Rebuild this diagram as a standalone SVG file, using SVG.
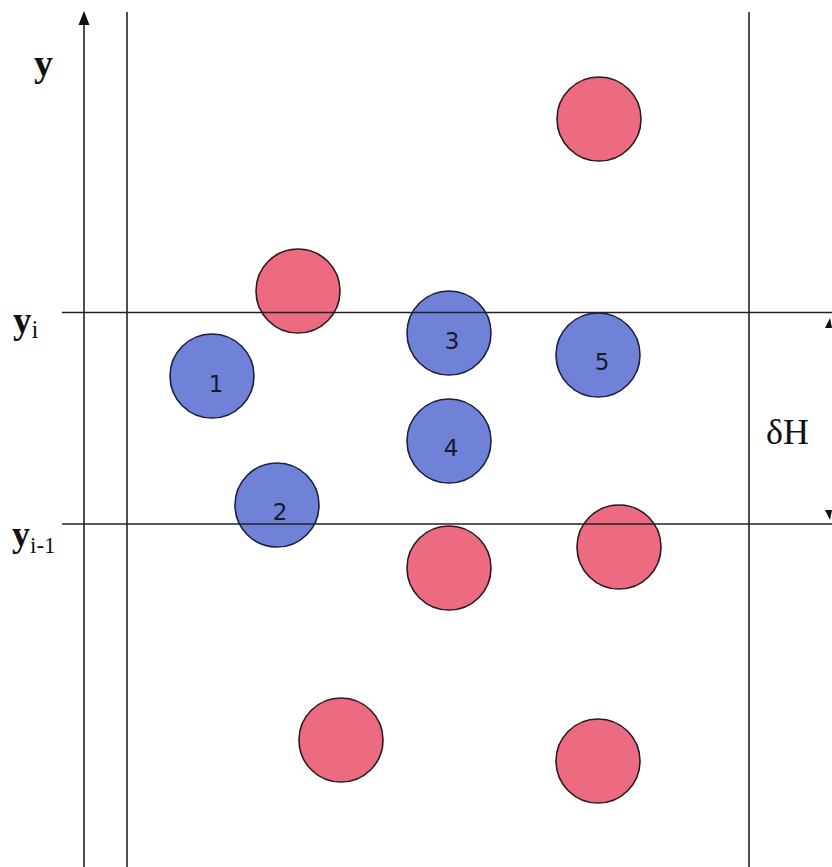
<svg xmlns="http://www.w3.org/2000/svg" width="832" height="867" viewBox="0 0 832 867">
<defs>
<style>
.red{fill:#ec6b80;stroke:#2a1a1e;stroke-width:1.6}
.blue{fill:#6f82d8;stroke:#1c2040;stroke-width:1.6}
.ln{stroke:#222;stroke-width:1.6;fill:none}
.num{font-family:"DejaVu Sans","Liberation Sans",sans-serif;font-size:23px;font-weight:normal;fill:#1a1a2a;text-anchor:middle}
.lab{font-family:"Liberation Serif",serif;fill:#111}
</style>
</defs>
<rect width="832" height="867" fill="#ffffff"/>
<g id="nodes">
<g id="r1"><circle class="red" cx="599" cy="119" r="42"/></g>
<g id="r2"><circle class="red" cx="298" cy="291" r="42"/></g>
<g id="b1"><circle class="blue" cx="212" cy="376" r="42"/><text class="num" x="216" y="392">1</text></g>
<g id="b2"><circle class="blue" cx="277" cy="505" r="42"/><text class="num" x="280" y="520">2</text></g>
<g id="b3"><circle class="blue" cx="449" cy="333" r="42"/><text class="num" x="452" y="349">3</text></g>
<g id="b4"><circle class="blue" cx="449" cy="441" r="42"/><text class="num" x="451" y="456">4</text></g>
<g id="b5"><circle class="blue" cx="598" cy="355" r="42"/><text class="num" x="602" y="370">5</text></g>
<g id="r3"><circle class="red" cx="449" cy="568" r="42"/></g>
<g id="r4"><circle class="red" cx="619" cy="547" r="42"/></g>
<g id="r5"><circle class="red" cx="341" cy="740" r="42"/></g>
<g id="r6"><circle class="red" cx="598" cy="761" r="42"/></g>
</g>
<g id="connectors">
<line class="ln" x1="84" y1="22" x2="84" y2="867"/>
<polygon points="84,11 78.5,25 89.5,25" fill="#111"/>
<line class="ln" x1="127" y1="12" x2="127" y2="867"/>
<line class="ln" x1="749" y1="12" x2="749" y2="867"/>
<line class="ln" x1="62" y1="312.5" x2="832" y2="312.5"/>
<line class="ln" x1="62" y1="524" x2="832" y2="524"/>
<polygon points="830,318 825,328 832,328" fill="#111"/>
<polygon points="830,520 825,510 832,510" fill="#111"/>
</g>
<g id="labels">
<text class="lab" x="34" y="76" font-size="38" font-weight="bold">y</text>
<text class="lab" x="13" y="333" font-size="37" font-weight="bold">y<tspan font-size="25" font-weight="normal" dy="5">i</tspan></text>
<text class="lab" x="12" y="546" font-size="36" font-weight="bold">y<tspan font-size="23" font-weight="normal" dy="7">i-1</tspan></text>
<text class="lab" x="766" y="444" font-size="36">δH</text>
</g>
</svg>
